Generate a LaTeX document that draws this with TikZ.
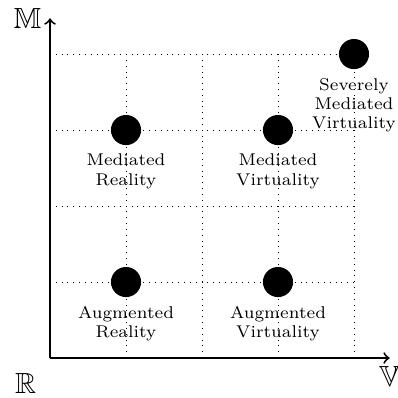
\documentclass[tikz,border=0pt]{standalone}
\usepackage{amssymb}
\usetikzlibrary{positioning}
\tikzset{
  mr grid/.style={dotted, line width=0.4pt},
  mr axis/.style={thick, ->},
  mr axis label/.style={font=\large, inner sep=0.3333em},
  mr point/.style={
    circle, fill=black, draw=none,
    inner sep=0pt, minimum size=12.4pt
  },
  mr label/.style={
    font=\scriptsize, align=center, inner sep=0.3333em
  }
}
\begin{document}
\begin{tikzpicture}[x=1.1cm,y=1.1cm]
  \useasboundingbox (-0.658,-0.526) rectangle (4.579,4.711);

  % grid behind everything
  \foreach \i in {1,...,4} {
    \draw[mr grid] (\i,0) -- (\i,4);
    \draw[mr grid] (0,\i) -- (4,\i);
  }

  \coordinate (origin) at (0,0);
  \coordinate (xend) at (4.47,0);
  \coordinate (yend) at (0,4.47);
  \draw[mr axis] (origin) -- (xend);
  \draw[mr axis] (origin) -- (yend);

  \node[mr axis label, left] (lblM) at (yend) {$\mathbb{M}$};
  \node[mr axis label] (lblR) at (-0.32,-0.34) {$\mathbb{R}$};
  \node[mr axis label, below] (lblV) at (xend) {$\mathbb{V}$};

  \node[mr point] (ar) at (1,1) {};
  \node[mr point] (av) at (3,1) {};
  \node[mr point] (mr) at (1,3) {};
  \node[mr point] (mv) at (3,3) {};
  \node[mr point] (smv) at (4,4) {};

  \node[mr label, below=0pt of ar] (arText) {Augmented\\Reality};
  \node[mr label, below=0pt of av] (avText) {Augmented\\Virtuality};
  \node[mr label, below=0pt of mr] (mrText) {Mediated\\Reality};
  \node[mr label, below=0pt of mv] (mvText) {Mediated\\Virtuality};
  \node[mr label, below=0pt of smv] (smvText) {Severely\\Mediated\\Virtuality};
\end{tikzpicture}
\end{document}
